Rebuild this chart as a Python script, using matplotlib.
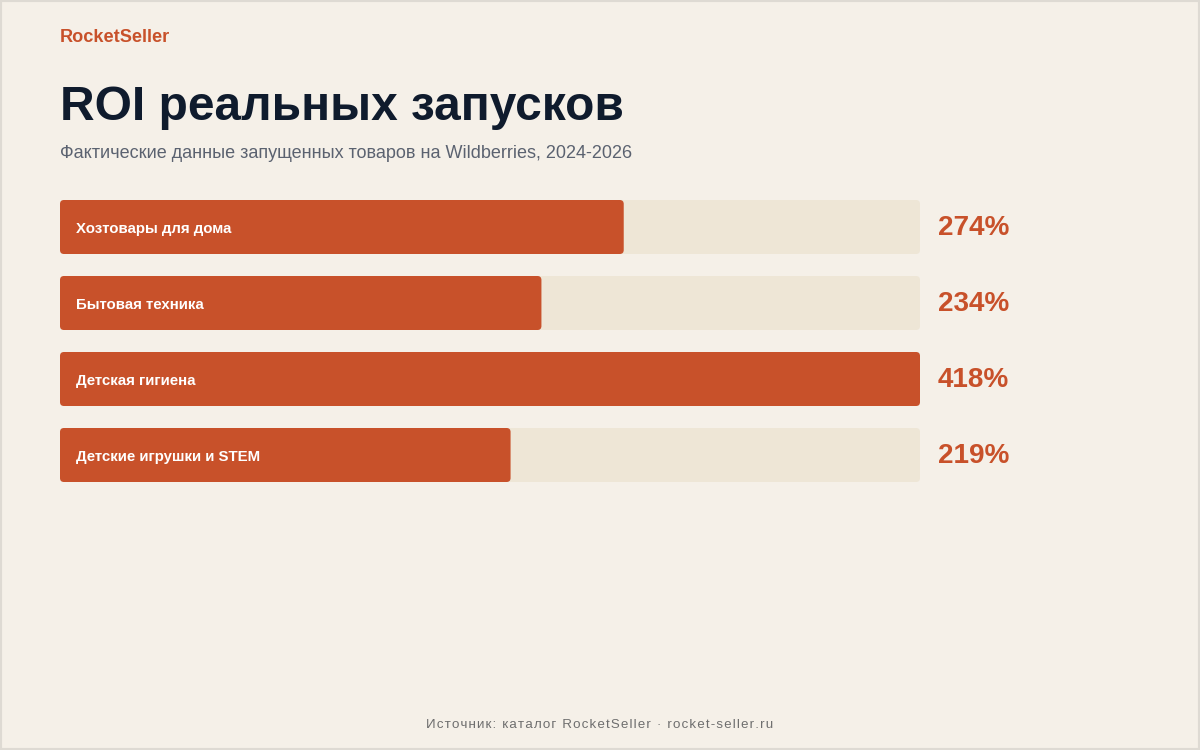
import matplotlib.pyplot as plt
from matplotlib.patches import FancyBboxPatch, Rectangle
import matplotlib.transforms as mtransforms

plt.rcParams['font.family'] = ['Liberation Sans', 'DejaVu Sans']

# данные
categories = ['Хозтовары для дома', 'Бытовая техника', 'Детская гигиена', 'Детские игрушки и STEM']
roi = [274, 234, 418, 219]

brand = 'RocketSeller'
title = 'ROI реальных запусков'
subtitle = 'Фактические данные запущенных товаров на Wildberries, 2024-2026'
footer = 'Источник: каталог RocketSeller · rocket-seller.ru'

bg = '#F5F0E8'
track = '#EEE6D6'
orange = '#C8512A'
navy = '#0F1B2D'

W, H = 1200, 750
fig = plt.figure(figsize=(12, 7.5), dpi=100, facecolor=bg)

# рамка
fig.patches.append(Rectangle((0, 0), 1, 1, transform=fig.transFigure, fill=False,
                             edgecolor='#DEDAD3', linewidth=3, zorder=10))

fig.text(60 / W, 1 - 42 / H, brand, color=orange, fontsize=13.1, fontweight='bold', va='baseline')
fig.text(60 / W, 1 - 120 / H, title, color=navy, fontsize=34.5, fontweight='bold', va='baseline')
fig.text(60 / W, 1 - 158 / H, subtitle, color='#5B6270', fontsize=13, va='baseline')
# разрядка в подписи источника
spaced = '\u200a'.join(footer)
fig.text(0.5, 1 - 728 / H, spaced, color='#6E6E6E', fontsize=9.6, ha='center', va='baseline')

# область с полосами
ax = fig.add_axes([60 / W, (H - 493) / H, 860 / W, 304 / H])
ax.set_facecolor('none')
vmax = max(roi)
ax.set_xlim(0, vmax)
ax.set_ylim(len(roi) - 0.5, -0.5)
ax.axis('off')

bh = 54 / 76
px_x = vmax / 860      # единиц по x на пиксель
px_y = 1 / 76          # единиц по y на пиксель
asp = px_y / px_x
r = 4 * px_x

for i, (cat, v) in enumerate(zip(categories, roi)):
    y0 = i - bh / 2
    ax.add_patch(FancyBboxPatch((0, y0), vmax, bh, boxstyle=f'round,pad=0,rounding_size={r}',
                                mutation_aspect=asp, facecolor=track, edgecolor='none'))
    ax.add_patch(FancyBboxPatch((0, y0), v, bh, boxstyle=f'round,pad=0,rounding_size={r}',
                                mutation_aspect=asp, facecolor=orange, edgecolor='none'))
    off_in = mtransforms.offset_copy(ax.transData, fig=fig, x=16, y=-6, units='dots')
    ax.text(0, i, cat, transform=off_in, color='white', fontsize=10.8, fontweight='bold', va='baseline')
    off_out = mtransforms.offset_copy(ax.transData, fig=fig, x=18, y=-8, units='dots')
    ax.text(vmax, i, f'{v}%', transform=off_out, color=orange, fontsize=20.1, fontweight='bold', va='baseline')

fig.savefig('out.png', dpi=100, facecolor=bg)
